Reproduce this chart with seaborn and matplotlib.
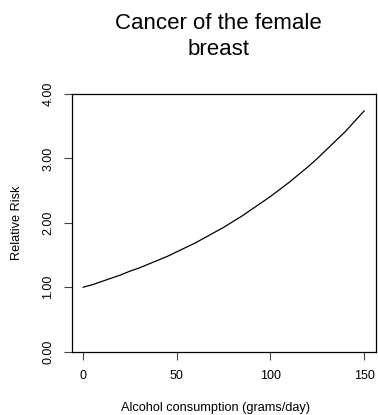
import matplotlib
matplotlib.use("Agg")
import matplotlib.pyplot as plt
import numpy as np
import pandas as pd
import seaborn as sns

# values (every 5 grams/day)
alcohol = [0, 5, 10, 15, 20, 25, 30, 35, 40, 45, 50, 55, 60, 65, 70, 75,
           80, 85, 90, 95, 100, 105, 110, 115, 120, 125, 130, 135, 140, 145, 150]
rel_risk = [1.00, 1.04, 1.09, 1.14, 1.19, 1.25, 1.30, 1.36, 1.42, 1.48,
            1.55, 1.62, 1.69, 1.77, 1.85, 1.93, 2.02, 2.11, 2.21, 2.31,
            2.41, 2.52, 2.63, 2.75, 2.87, 3.00, 3.14, 3.28, 3.42, 3.58, 3.74]
x_ticks = [0, 50, 100, 150]
y_ticks = [0, 1, 2, 3, 4]
y_tick_labels = ["0.00", "1.00", "2.00", "3.00", "4.00"]

df = pd.DataFrame({"alcohol": alcohol, "rr": rel_risk})

sns.set_style("ticks", {"text.color": "black", "axes.labelcolor": "black",
                        "xtick.color": "black", "ytick.color": "black",
                        "axes.edgecolor": "black"})
plt.rcParams['font.family'] = ['Liberation Sans', 'DejaVu Sans']
plt.rcParams['axes.linewidth'] = 0.9

fig = plt.figure(figsize=(3.78, 4.15), dpi=100)
ax = fig.add_axes([0.1897, 0.1525, 0.8037, 0.621])

sns.lineplot(data=df, x="alcohol", y="rr", color="black", linewidth=0.9, ax=ax)

ax.set_xlim(-6, 156)
ax.set_ylim(0, 4)
ax.set_xticks(x_ticks)
ax.set_yticks(y_ticks)
ax.set_yticklabels(y_tick_labels)
for s in ax.spines.values():
    s.set_visible(True)
ax.tick_params(axis="both", length=5.5, width=0.8, labelsize=9,
               color="#444444", labelcolor="black")
ax.tick_params(axis="x", pad=8)
ax.tick_params(axis="y", pad=7)
plt.setp(ax.get_yticklabels(), rotation=90, va="center")

ax.set_xlabel("Alcohol consumption (grams/day)", fontsize=9.2)
ax.set_ylabel("Relative Risk", fontsize=9.2)
ax.xaxis.set_label_coords(0.475, -0.197)
ax.yaxis.set_label_coords(-0.159, 0.5)

fig.text(0.579, 0.913, "Cancer of the female\nbreast", ha="center", va="center",
         fontsize=16, linespacing=1.3)

fig.savefig("out.png", dpi=100)
